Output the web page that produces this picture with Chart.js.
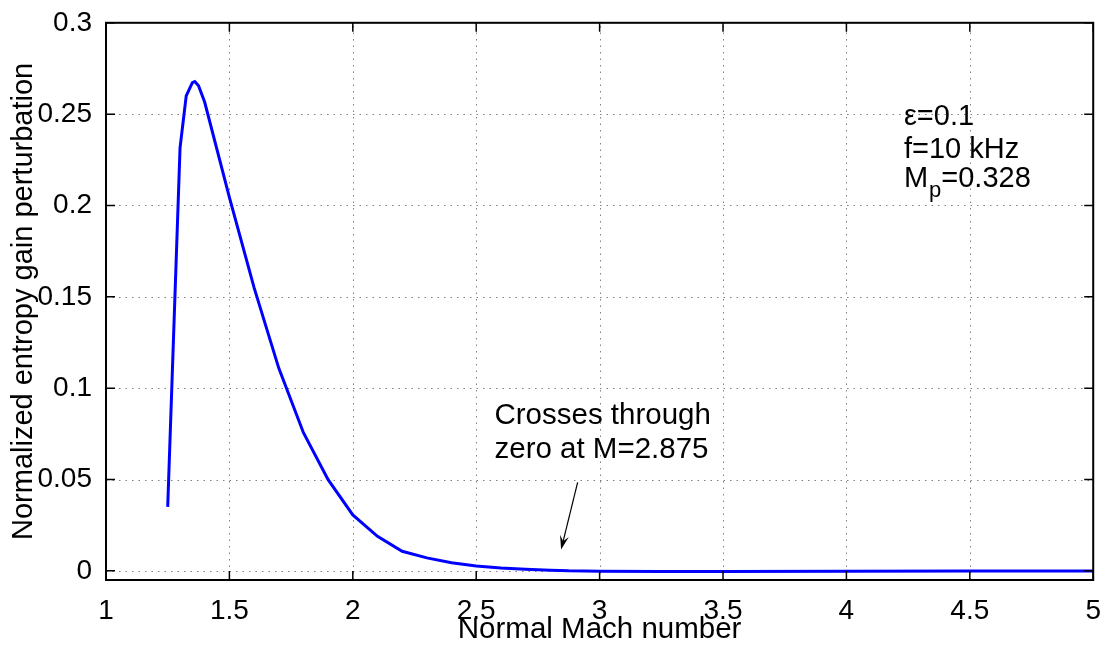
<!DOCTYPE html>
<html>
<head>
<meta charset="utf-8">
<script src="https://cdn.jsdelivr.net/npm/chart.js@4.4.0/dist/chart.umd.min.js"></script>
<style>
    html, body { margin: 0; padding: 0; background: #fff; }
    #wrap { width: 1107px; height: 646px; }
</style>
</head>
<body>
<div id="wrap"><canvas id="entropyChart" width="1107" height="646"></canvas></div>
<script>
// Normal Mach number vs normalized entropy gain perturbation
const machNumbers = [1.25, 1.3, 1.325, 1.35, 1.36, 1.375, 1.4, 1.5, 1.6, 1.7, 1.8, 1.9, 2.0, 2.1, 2.2, 2.3, 2.4, 2.5, 2.6, 2.7, 2.8, 2.875, 3.0, 3.25, 3.5, 4.0, 4.5, 5.0];
const entropyGain = [0.035, 0.2315, 0.260, 0.2672, 0.2678, 0.2655, 0.2565, 0.2045, 0.155, 0.111, 0.0756, 0.0499, 0.0306, 0.0189, 0.0107, 0.0071, 0.0044, 0.0027, 0.0016, 0.0009, 0.0004, 0, -0.0002, -0.0003, -0.0003, -0.0002, -0.0001, -0.0001];

const xTicks = [1, 1.5, 2, 2.5, 3, 3.5, 4, 4.5, 5];
const xTickLabels = ['1', '1.5', '2', '2.5', '3', '3.5', '4', '4.5', '5'];
const yTicks = [0, 0.05, 0.1, 0.15, 0.2, 0.25, 0.3];
const yTickLabels = ['0', '0.05', '0.1', '0.15', '0.2', '0.25', '0.3'];

const xTitle = 'Normal Mach number';
const yTitle = 'Normalized entropy gain perturbation';
const paramLines = ['\u03b5=0.1', 'f=10 kHz'];
const machNote = ['M', 'p', '=0.328'];
const crossNote = ['Crosses through', 'zero at M=2.875'];

const FONT = '"Liberation Sans", Arial, Helvetica, sans-serif';

// frame, dotted grid and inward ticks (MATLAB style)
const matlabAxes = {
    id: 'matlabAxes',
    beforeDatasetsDraw(chart) {
        const ctx = chart.ctx;
        const area = chart.chartArea;
        const xs = chart.scales.x;
        const ys = chart.scales.y;
        ctx.save();
        ctx.strokeStyle = '#808080';
        ctx.lineWidth = 1;
        ctx.setLineDash([1.5, 5]);
        xTicks.forEach(v => {
            const px = Math.round(xs.getPixelForValue(v)) + 0.5;
            if (v === xTicks[0] || v === xTicks[xTicks.length - 1]) return;
            ctx.beginPath();
            ctx.moveTo(px, area.bottom);
            ctx.lineTo(px, area.top);
            ctx.stroke();
        });
        yTicks.forEach(v => {
            const py = Math.round(ys.getPixelForValue(v)) + 0.5;
            if (py <= area.top + 1) return;
            ctx.beginPath();
            ctx.moveTo(area.left, py);
            ctx.lineTo(area.right, py);
            ctx.stroke();
        });
        ctx.restore();
    },
    afterDatasetsDraw(chart) {
        const ctx = chart.ctx;
        const area = chart.chartArea;
        const xs = chart.scales.x;
        const ys = chart.scales.y;
        const tl = 9;
        ctx.save();
        ctx.strokeStyle = '#000';
        ctx.lineWidth = 1.5;
        ctx.setLineDash([]);
        xTicks.forEach(v => {
            const px = xs.getPixelForValue(v);
            ctx.beginPath();
            ctx.moveTo(px, area.bottom);
            ctx.lineTo(px, area.bottom - tl);
            ctx.moveTo(px, area.top);
            ctx.lineTo(px, area.top + tl);
            ctx.stroke();
        });
        yTicks.forEach(v => {
            const py = ys.getPixelForValue(v);
            ctx.beginPath();
            ctx.moveTo(area.left, py);
            ctx.lineTo(area.left + tl, py);
            ctx.moveTo(area.right, py);
            ctx.lineTo(area.right - tl, py);
            ctx.stroke();
        });
        ctx.lineWidth = 2;
        ctx.strokeRect(area.left, area.top, area.right - area.left, area.bottom - area.top);
        ctx.restore();
    }
};

// text notes and the arrow
const notes = {
    id: 'notes',
    afterDraw(chart) {
        const ctx = chart.ctx;
        const xs = chart.scales.x;
        const ys = chart.scales.y;
        const X = v => xs.getPixelForValue(v);
        const Y = v => ys.getPixelForValue(v);
        ctx.save();
        ctx.fillStyle = '#000';
        ctx.textAlign = 'left';
        ctx.textBaseline = 'alphabetic';
        ctx.font = '29px ' + FONT;

        // parameters, top right
        const px = X(4.233);
        ctx.fillText(paramLines[0], px, Y(0.2442));
        ctx.fillText(paramLines[1], px, Y(0.2261));
        let mx = px;
        ctx.fillText(machNote[0], mx, Y(0.2103));
        mx += ctx.measureText(machNote[0]).width + 1;
        ctx.font = '22px ' + FONT;
        ctx.fillText(machNote[1], mx, Y(0.2047));
        mx += ctx.measureText(machNote[1]).width;
        ctx.font = '29px ' + FONT;
        ctx.fillText(machNote[2], mx, Y(0.2103));

        // zero crossing note
        ctx.font = '29.5px ' + FONT;
        ctx.fillText(crossNote[0], X(2.574), Y(0.0804));
        ctx.fillText(crossNote[1], X(2.574), Y(0.0619));

        const x0 = X(2.911), y0 = Y(0.0484);
        const x1 = X(2.844), y1 = Y(0.0117);
        const ang = Math.atan2(y1 - y0, x1 - x0);
        const headLen = 14, headW = 4.5;
        ctx.strokeStyle = '#000';
        ctx.lineWidth = 1.2;
        ctx.beginPath();
        ctx.moveTo(x0, y0);
        ctx.lineTo(x1 - Math.cos(ang) * headLen * 0.6, y1 - Math.sin(ang) * headLen * 0.6);
        ctx.stroke();
        const bx = x1 - Math.cos(ang) * headLen, by = y1 - Math.sin(ang) * headLen;
        ctx.beginPath();
        ctx.moveTo(x1, y1);
        ctx.lineTo(bx + Math.sin(ang) * headW, by - Math.cos(ang) * headW);
        ctx.lineTo(x1 - Math.cos(ang) * headLen * 0.6, y1 - Math.sin(ang) * headLen * 0.6);
        ctx.lineTo(bx - Math.sin(ang) * headW, by + Math.cos(ang) * headW);
        ctx.closePath();
        ctx.fill();
        ctx.restore();
    }
};

const ctx = document.getElementById('entropyChart').getContext('2d');
new Chart(ctx, {
    type: 'line',
    data: {
        datasets: [{
            data: machNumbers.map((m, i) => ({ x: m, y: entropyGain[i] })),
            borderColor: '#0000ff',
            borderWidth: 3,
            pointRadius: 0,
            tension: 0,
            fill: false
        }]
    },
    options: {
        responsive: false,
        animation: false,
        devicePixelRatio: 1,
        layout: { padding: { left: 0, top: 19, right: 12.5, bottom: 0 } },
        plugins: {
            legend: { display: false },
            tooltip: { enabled: false }
        },
        scales: {
            x: {
                type: 'linear',
                min: 1,
                max: 5,
                afterBuildTicks: s => { s.ticks = xTicks.map(v => ({ value: v })); },
                afterFit: s => { s.height = 66; },
                grid: { display: false },
                border: { display: false },
                ticks: {
                    color: '#000',
                    padding: 6,
                    maxRotation: 0,
                    autoSkip: false,
                    font: { family: FONT, size: 28, lineHeight: 1.2 },
                    callback: v => xTickLabels[xTicks.indexOf(v)]
                },
                title: {
                    display: true,
                    text: xTitle,
                    color: '#000',
                    font: { family: FONT, size: 29.5, lineHeight: 1 },
                    padding: { top: 0, bottom: 1 }
                }
            },
            y: {
                min: -0.005,
                max: 0.3,
                afterBuildTicks: s => { s.ticks = yTicks.map(v => ({ value: v })); },
                afterFit: s => { s.width = 106; },
                grid: { display: false },
                border: { display: false },
                ticks: {
                    color: '#000',
                    padding: 6,
                    autoSkip: false,
                    font: { family: FONT, size: 28 },
                    callback: v => yTickLabels[yTicks.indexOf(v)]
                },
                title: {
                    display: true,
                    text: yTitle,
                    color: '#000',
                    font: { family: FONT, size: 29, lineHeight: 1 },
                    padding: { top: 9, bottom: 0 }
                }
            }
        }
    },
    plugins: [matlabAxes, notes]
});
</script>
</body>
</html>
